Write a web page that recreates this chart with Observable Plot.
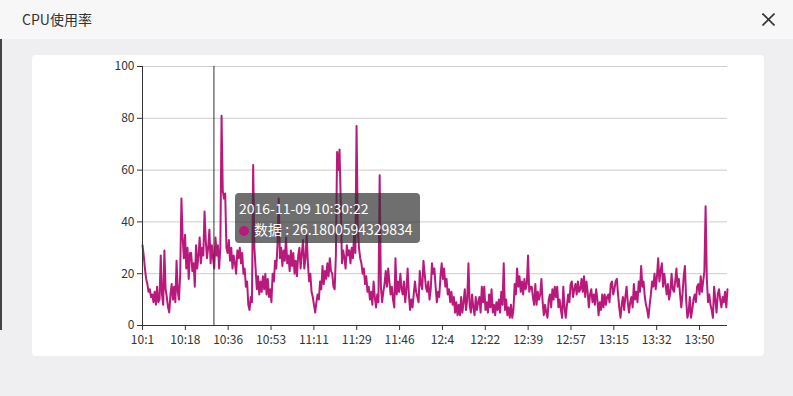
<!DOCTYPE html>
<html>
<head>
<meta charset="utf-8">
<script src="https://cdn.jsdelivr.net/npm/d3@7"></script>
<script src="https://cdn.jsdelivr.net/npm/@observablehq/plot@0.6"></script>
<style>
  html, body { margin: 0; padding: 0; }
  body { width: 793px; height: 396px; background: #efeff2; position: relative; overflow: hidden;
         font-family: "Noto Sans CJK SC", "Noto Sans", sans-serif; }
  #header { position: absolute; left: 0; top: 0; width: 793px; height: 39px; background: #f7f7f7; }
  #title { position: absolute; left: 22px; top: 10px; font-size: 14px; line-height: 18px; color: #333; }
  #close { position: absolute; left: 762px; top: 13px; }
  #edge { position: absolute; left: 0; top: 39px; width: 2px; height: 291px; background: #444; }
  #card { position: absolute; left: 32px; top: 55px; width: 732px; height: 301px; background: #fff; border-radius: 4px; }
  #card svg { position: absolute; left: 0; top: 0; }
  #tip { position: absolute; left: 235px; top: 193px; width: 185px; height: 50px; box-sizing: border-box;
         background: rgba(50,50,50,0.7); border-radius: 4px; color: #fff; font-size: 14px; line-height: 21px;
         padding: 5px 0 0 4px; white-space: nowrap; }
  #tip .dot { display: inline-block; width: 10px; height: 10px; border-radius: 5px; margin-right: 5px; vertical-align: -1px; }
</style>
</head>
<body>
<div id="header">
  <div id="title">CPU使用率</div>
  <svg id="close" width="13" height="13" viewBox="0 0 13 13">
    <line x1="0.5" y1="0.5" x2="12.5" y2="12.5" stroke="#333" stroke-width="1.6"/>
    <line x1="12.5" y1="0.5" x2="0.5" y2="12.5" stroke="#333" stroke-width="1.6"/>
  </svg>
</div>
<div id="edge"></div>
<div id="card"></div>
<div id="tip"></div>
<script>
// CPU usage (%) sampled every 30 seconds from 2016-11-09 10:01:00
const cpuValues = [
  31,27,22,18,16,13,14,11,12,9,13,8,15,9,10,27,12,8,29,14,
  11,7,5,12,16,10,15,9,25,13,10,20,49,34,26,35,22,30,18,28,
  28,21,24,15,31,22,27,34,24,30,27,44,33,26,30,37,24,31,26,22,
  34,27,31,22,30,81,52,49,51,30,28,33,25,30,22,27,24,20,29,26,
  30,24,28,20,22,15,17,8,6,11,9,62,30,22,14,19,12,17,13,19,
  14,20,12,18,11,14,9,20,17,25,22,31,49,26,30,23,29,25,34,24,
  27,21,29,23,28,20,25,19,27,30,22,28,33,22,26,35,24,17,20,13,
  11,8,5,9,12,10,17,14,23,16,21,18,24,19,26,21,20,15,14,27,
  67,60,68,48,24,29,26,22,31,27,29,24,30,26,35,28,77,38,30,26,
  24,20,22,16,19,13,15,10,13,8,17,11,7,12,9,58,15,9,13,16,
  21,15,22,17,12,15,10,7,26,12,17,13,20,14,12,17,9,14,22,12,
  6,10,7,12,17,13,11,9,21,16,14,25,20,15,13,17,10,14,24,20,
  22,15,9,13,11,19,24,18,22,15,18,12,14,9,13,8,11,5,9,4,
  8,4,11,5,9,14,6,10,24,8,5,12,7,4,11,6,9,11,5,15,
  9,15,6,9,5,12,7,14,5,8,4,9,6,10,5,13,8,24,6,10,
  4,7,3,8,3,6,16,12,22,15,19,13,17,12,18,14,16,27,13,15,
  15,11,8,16,8,13,10,12,18,9,4,8,5,3,10,12,7,14,10,15,
  11,15,7,10,6,3,15,7,3,8,12,9,16,17,11,14,16,12,17,13,
  14,18,13,19,11,17,13,7,12,14,9,12,8,14,10,4,9,6,12,7,
  12,8,11,12,9,16,17,12,14,17,18,12,7,3,8,11,6,11,15,9,
  5,9,11,7,16,10,13,9,17,13,23,15,17,11,8,6,3,8,12,17,
  15,20,14,19,26,17,21,24,15,20,16,12,16,10,13,20,14,13,17,22,
  15,18,12,7,12,19,23,10,3,5,11,3,6,10,12,9,15,16,12,19,
  13,17,21,46,18,9,12,8,6,3,15,10,5,12,14,10,7,11,9,13,7,14
];
const startTime = new Date(2016, 10, 9, 10, 1, 0);
const stepSeconds = 30;
const xTickLabels = ["10:1","10:18","10:36","10:53","11:11","11:29","11:46","12:4","12:22","12:39","12:57","13:15","13:32","13:50"];
const yTicks = [0, 20, 40, 60, 80, 100];
const tipTimeText = "2016-11-09 10:30:22";
const tipSeriesName = "数据";
const tipValue = 26.1800594329834;
const lineColor = "#b9197a";

const data = cpuValues.map((v, i) => ({ time: new Date(+startTime + i * stepSeconds * 1000), value: v }));
const endTime = data[data.length - 1].time;
// category-style labels: evenly spaced, from first label to last label
const spanMin = 229 / (xTickLabels.length - 1);
const tickDates = xTickLabels.map((_, i) => new Date(+startTime + i * spanMin * 60000));
const labelOf = new Map(tickDates.map((d, i) => [+d, xTickLabels[i]]));
const tipTime = new Date(2016, 10, 9, 10, 30, 22);

const chart = Plot.plot({
  width: 732,
  height: 300,
  marginLeft: 110,
  marginRight: 37,
  marginTop: 11,
  marginBottom: 30,
  style: { background: "transparent", fontFamily: "'Noto Sans CJK SC', 'Noto Sans', sans-serif", fontSize: "12px", color: "#333", overflow: "visible" },
  x: { type: "time", domain: [startTime, endTime], label: null },
  y: { domain: [0, 100], label: null },
  marks: [
    Plot.gridY(yTicks.filter(d => d > 0), { stroke: "#ccc", strokeOpacity: 1 }),
    Plot.line(data, { x: "time", y: "value", stroke: lineColor, strokeWidth: 2, strokeLinejoin: "round" }),
    Plot.ruleX([tipTime], { y1: 0, y2: 100, stroke: "#333", strokeWidth: 1 }),
    Plot.ruleX([startTime], { y1: 0, y2: 100, stroke: "#333" }),
    Plot.ruleY([0], { stroke: "#333" }),
    Plot.axisY({ ticks: yTicks, tickSize: 5, tickPadding: 3, stroke: "#333", fill: "#333", label: null }),
    Plot.axisX({ ticks: tickDates, tickFormat: d => labelOf.get(+d), tickSize: 5, tickPadding: 5, stroke: "#333", fill: "#333", label: null })
  ]
});
document.getElementById("card").appendChild(chart);

const tip = document.getElementById("tip");
tip.innerHTML = `<div>${tipTimeText}</div><div><span class="dot" style="background:${lineColor}"></span>${tipSeriesName} : ${tipValue}</div>`;
</script>
</body>
</html>
